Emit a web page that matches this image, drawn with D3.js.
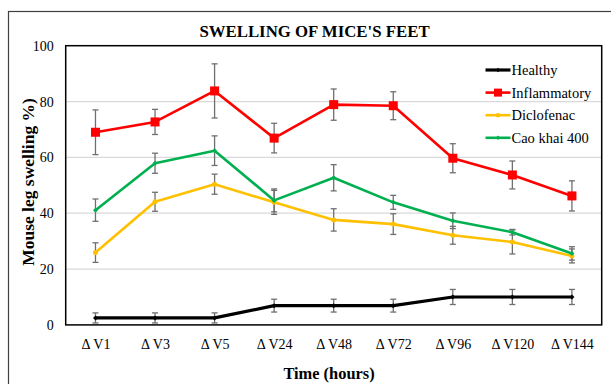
<!DOCTYPE html>
<html><head><meta charset="utf-8">
<script src="https://cdn.jsdelivr.net/npm/d3@7"></script>
<style>body{margin:0;background:#fff}svg{display:block}</style>
</head><body>
<script>
const categories = ["\u0394 V1","\u0394 V3","\u0394 V5","\u0394 V24","\u0394 V48","\u0394 V72","\u0394 V96","\u0394 V120","\u0394 V144"];
const yTicks = [0,20,40,60,80,100];
const healthy = [2.5,2.5,2.5,6.9,6.9,6.9,10,10,10];
const healthyErr = [1.8,1.8,1.8,2.3,2.3,2.3,2.7,2.7,2.7];
const inflammatory = [69,72.7,83.8,66.9,78.9,78.5,59.7,53.7,46.2];
const inflammatoryErr = [8,4.5,9.7,5.3,5.6,5,5.2,5,5.4];
const diclofenac = [25.9,44.1,50.4,43.9,37.6,36.1,32.1,29.7,24.7];
const diclofenacErr = [3.5,3.4,3.6,4.3,4,3.7,3.2,4.3,2.5];
const caoKhai = [41.1,57.9,62.4,44.6,52.7,43.9,37.3,33.2,25.6];
const caoKhaiErr = [4,3.6,5.3,4.1,4.7,2.5,2.8,1,2.4];
const seriesNames = ["Healthy","Inflammatory","Diclofenac","Cao khai 400"];

const FONT="Liberation Serif";
const series = [
  {name:seriesNames[0], values:healthy, err:healthyErr, color:"#000000", width:3.2, marker:"diamond", msize:5},
  {name:seriesNames[1], values:inflammatory, err:inflammatoryErr, color:"#FF0000", width:2.6, marker:"square", msize:9},
  {name:seriesNames[2], values:diclofenac, err:diclofenacErr, color:"#FFC000", width:2.6, marker:"circle", msize:5},
  {name:seriesNames[3], values:caoKhai, err:caoKhaiErr, color:"#00B050", width:2.6, marker:"diamond", msize:5}
];

const W=611,H=384;
const m={left:65.7,right:W-601.7,top:45.7,bottom:H-324.9};
const svg=d3.select("body").append("svg").attr("width",W).attr("height",H).attr("font-family",FONT);

svg.append("rect").attr("x",8.5).attr("y",11.5).attr("width",W+10).attr("height",H+10)
  .attr("fill","none").attr("stroke","#404040").attr("stroke-width",1.2);

const x=d3.scalePoint().domain(categories).range([m.left,W-m.right]).padding(0.5);
const y=d3.scaleLinear().domain([0,100]).range([H-m.bottom,m.top]);

// gridlines
svg.append("g").selectAll("line").data(yTicks.slice(1,-1)).join("line")
  .attr("x1",m.left).attr("x2",W-m.right).attr("y1",d=>y(d)).attr("y2",d=>y(d))
  .attr("stroke","#d9d9d9").attr("stroke-width",1.2);

// y axis labels
const ya=svg.append("g").attr("transform",`translate(${m.left},0)`)
  .call(d3.axisLeft(y).tickValues(yTicks).tickSize(0).tickPadding(12));
ya.attr("font-family",FONT);
ya.select(".domain").remove();
ya.selectAll("text").attr("font-family",FONT).attr("font-size",14).attr("fill","#000");

// x axis labels
const xa=svg.append("g").attr("transform",`translate(0,${H-m.bottom})`)
  .call(d3.axisBottom(x).tickSize(0).tickPadding(14));
xa.attr("font-family",FONT);
xa.select(".domain").remove();
xa.selectAll("text").attr("font-family",FONT).attr("font-size",14).attr("fill","#000");

// plot frame
svg.append("rect").attr("x",m.left).attr("y",m.top).attr("width",W-m.right-m.left).attr("height",H-m.bottom-m.top)
  .attr("fill","none").attr("stroke","#000").attr("stroke-width",1.5);

const line=d3.line().x((d,i)=>x(categories[i])).y(d=>y(d));

function drawMarker(g,type,size,color,cx,cy){
  if(type==="square") g.append("rect").attr("x",cx-size/2).attr("y",cy-size/2).attr("width",size).attr("height",size).attr("fill",color);
  else if(type==="circle") g.append("circle").attr("cx",cx).attr("cy",cy).attr("r",size/2).attr("fill",color);
  else g.append("path").attr("d",`M${cx},${cy-size/2}L${cx+size/2},${cy}L${cx},${cy+size/2}L${cx-size/2},${cy}Z`).attr("fill",color);
}

const drawOrder=[0,1,2,3];
// error bars
drawOrder.forEach(si=>{
  const s=series[si];
  const g=svg.append("g").attr("stroke","#6f6f6f").attr("stroke-width",1.3);
  s.values.forEach((v,i)=>{
    const cx=x(categories[i]), t=y(v+s.err[i]), b=y(v-s.err[i]);
    g.append("line").attr("x1",cx).attr("x2",cx).attr("y1",t).attr("y2",b);
    g.append("line").attr("x1",cx-3).attr("x2",cx+3).attr("y1",t).attr("y2",t);
    g.append("line").attr("x1",cx-3).attr("x2",cx+3).attr("y1",b).attr("y2",b);
  });
});
// lines and markers
drawOrder.forEach(si=>{
  const s=series[si];
  svg.append("path").datum(s.values).attr("d",line).attr("fill","none")
    .attr("stroke",s.color).attr("stroke-width",s.width).attr("stroke-linejoin","round");
  const g=svg.append("g");
  s.values.forEach((v,i)=>drawMarker(g,s.marker,s.msize,s.color,x(categories[i]),y(v)));
});

// legend
const lg=svg.append("g");
series.forEach((s,i)=>{
  const ly=70+i*22.6;
  lg.append("line").attr("x1",485.5).attr("x2",510.5).attr("y1",ly).attr("y2",ly)
    .attr("stroke",s.color).attr("stroke-width",s.width);
  drawMarker(lg,s.marker,s.marker==="square"?8:4.5,s.color,498,ly);
  lg.append("text").attr("x",511.5).attr("y",ly+5).attr("font-family",FONT).attr("font-size",14.5).text(s.name);
});

// title
svg.append("text").attr("x",314.5).attr("y",36.5).attr("text-anchor","middle").attr("font-family",FONT)
  .attr("font-size",16.8).attr("font-weight","bold").text("SWELLING OF MICE'S FEET");
// axis titles
svg.append("text").attr("x",329).attr("y",379).attr("text-anchor","middle").attr("font-family",FONT)
  .attr("font-size",16.4).attr("font-weight","bold").text("Time (hours)");
svg.append("text").attr("transform","translate(34,182) rotate(-90)").attr("text-anchor","middle").attr("font-family",FONT)
  .attr("font-size",17.5).attr("font-weight","bold").text("Mouse leg swelling %)");
</script>
</body></html>
